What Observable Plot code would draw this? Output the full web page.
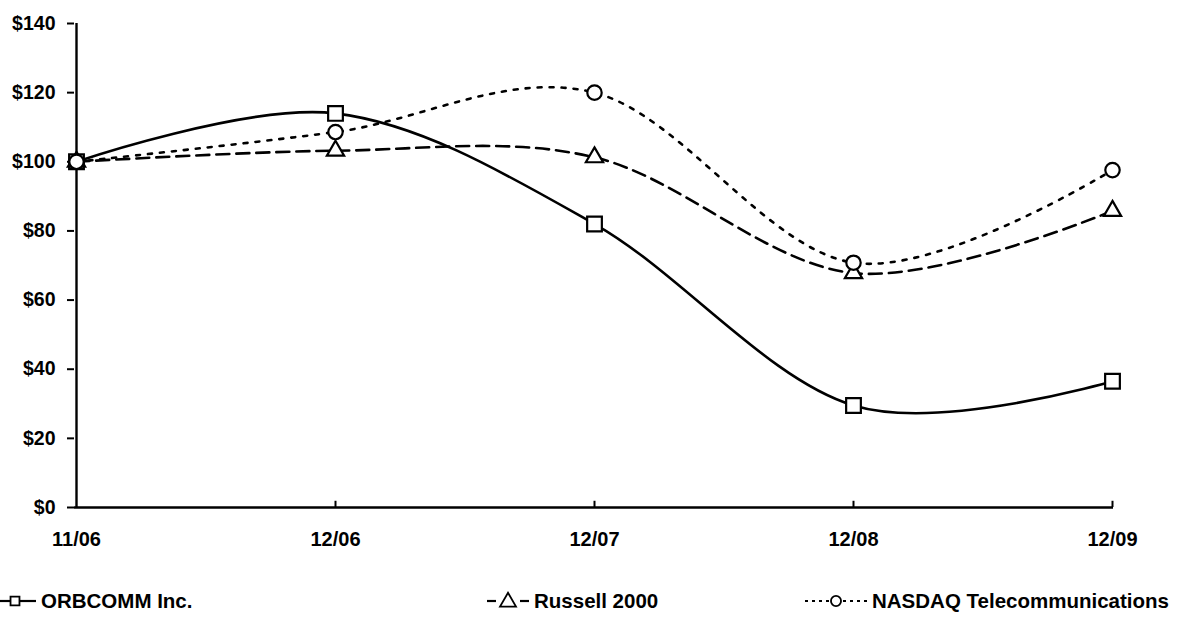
<!DOCTYPE html>
<html><head><meta charset="utf-8">
<script src="https://cdn.jsdelivr.net/npm/d3@7"></script>
<script src="https://cdn.jsdelivr.net/npm/@observablehq/plot@0.6"></script>
<style>
body{margin:0;background:#fff;}
#wrap{position:relative;width:1177px;height:632px;font-family:"Liberation Sans",Arial,sans-serif;font-weight:bold;background:#fff;}
.leg{position:absolute;top:588px;height:26px;display:flex;align-items:center;font-size:20.5px;color:#000;white-space:nowrap;}
.leg svg{margin-right:5px;}
</style></head><body><div id="wrap"></div>
<script>
const periods = ["11/06","12/06","12/07","12/08","12/09"];
const orbcomm = [100,114,82,29.5,36.5];
const russell = [100,103.2,101.3,67.8,85.8];
const nasdaq  = [100,108.6,120,70.8,97.6];
const seriesNames = ["ORBCOMM Inc.","Russell 2000","NASDAQ Telecommunications"];
const yTicks = [0,20,40,60,80,100,120,140];

const styles = [
  {symbol:"square",   r:8.3, dash:null},
  {symbol:"triangle", r:6.4, dash:"13,7"},
  {symbol:"circle",   r:7.2, dash:"4,8"}
];
const values = [orbcomm, russell, nasdaq];
const rows = values.map((vals, si) => periods.map((p, i) => ({period:p, value:vals[i], series:seriesNames[si]})));

const font = '"Liberation Sans", Arial, sans-serif';
const lineMarks = [];
rows.forEach((data, si) => {
  lineMarks.push(Plot.line(data, {x:"period", y:"value", curve:"cardinal", tension:0, stroke:"#000", strokeWidth:2.6, strokeDasharray:styles[si].dash || undefined}));
});
rows.forEach((data, si) => {
  lineMarks.push(Plot.dot(data, {x:"period", y:"value", symbol:styles[si].symbol, r:styles[si].r, stroke:"#000", strokeWidth:2.2, fill:"#fff"}));
});

const chart = Plot.plot({
  width:1177, height:560,
  marginLeft:74, marginRight:64, marginTop:23, marginBottom:53,
  style:{fontFamily:font, fontWeight:"bold", fontSize:"20px", color:"#000", background:"#fff"},
  x:{type:"point", domain:periods, padding:0, label:null},
  y:{domain:[0,140], label:null},
  marks:[
    Plot.axisY(yTicks, {tickSize:7, tickPadding:12, tickFormat:d => "$" + d, fontSize:19.5, fontWeight:"bold", strokeWidth:2, label:null}),
    Plot.axisX({tickSize:0, tickPadding:24, fontSize:20, fontWeight:"bold", label:null}),
    Plot.ruleX(periods.slice(1), {y1:0, y2:1.8, stroke:"#000", strokeWidth:2}),
    Plot.ruleY([0], {stroke:"#000", strokeWidth:2.4}),
    Plot.ruleX([periods[0]], {stroke:"#000", strokeWidth:2.4}),
    ...lineMarks
  ]
});
const wrap = document.getElementById("wrap");
wrap.appendChild(chart);

// Legend
function swatch(si, w, cx, size, gap) {
  const s = styles[si];
  const sym = {square:d3.symbolSquare, triangle:d3.symbolTriangle, circle:d3.symbolCircle}[s.symbol];
  const path = d3.symbol(sym, size)();
  const dash = si === 1 ? 'stroke-dasharray="9,100"' : si === 2 ? 'stroke-dasharray="3,4"' : '';
  const dashR = si === 1 ? 'stroke-dasharray="9,100"' : si === 2 ? 'stroke-dasharray="3,4"' : '';
  return `<svg width="${w}" height="26" style="overflow:visible">
    <line x1="0" x2="${cx - gap}" y1="13" y2="13" stroke="#000" stroke-width="2.2" ${dash}/>
    <line x1="${w}" x2="${cx + gap}" y1="13" y2="13" stroke="#000" stroke-width="2.2" ${dashR}/>
    <path d="${path}" transform="translate(${cx},${si === 1 ? 14 : 13})" fill="#fff" stroke="#000" stroke-width="1.8"/>
  </svg>`;
}
const legPos = [
  {left:0,   w:36, cx:15, size:80,  gap:0},
  {left:487, w:42, cx:21, size:110, gap:10},
  {left:805, w:62, cx:31, size:80,  gap:7}
];
seriesNames.forEach((name, si) => {
  const d = document.createElement("div");
  d.className = "leg";
  d.style.left = legPos[si].left + "px";
  d.innerHTML = swatch(si, legPos[si].w, legPos[si].cx, legPos[si].size, legPos[si].gap) + `<span>${name}</span>`;
  wrap.appendChild(d);
});
</script>
</body></html>
